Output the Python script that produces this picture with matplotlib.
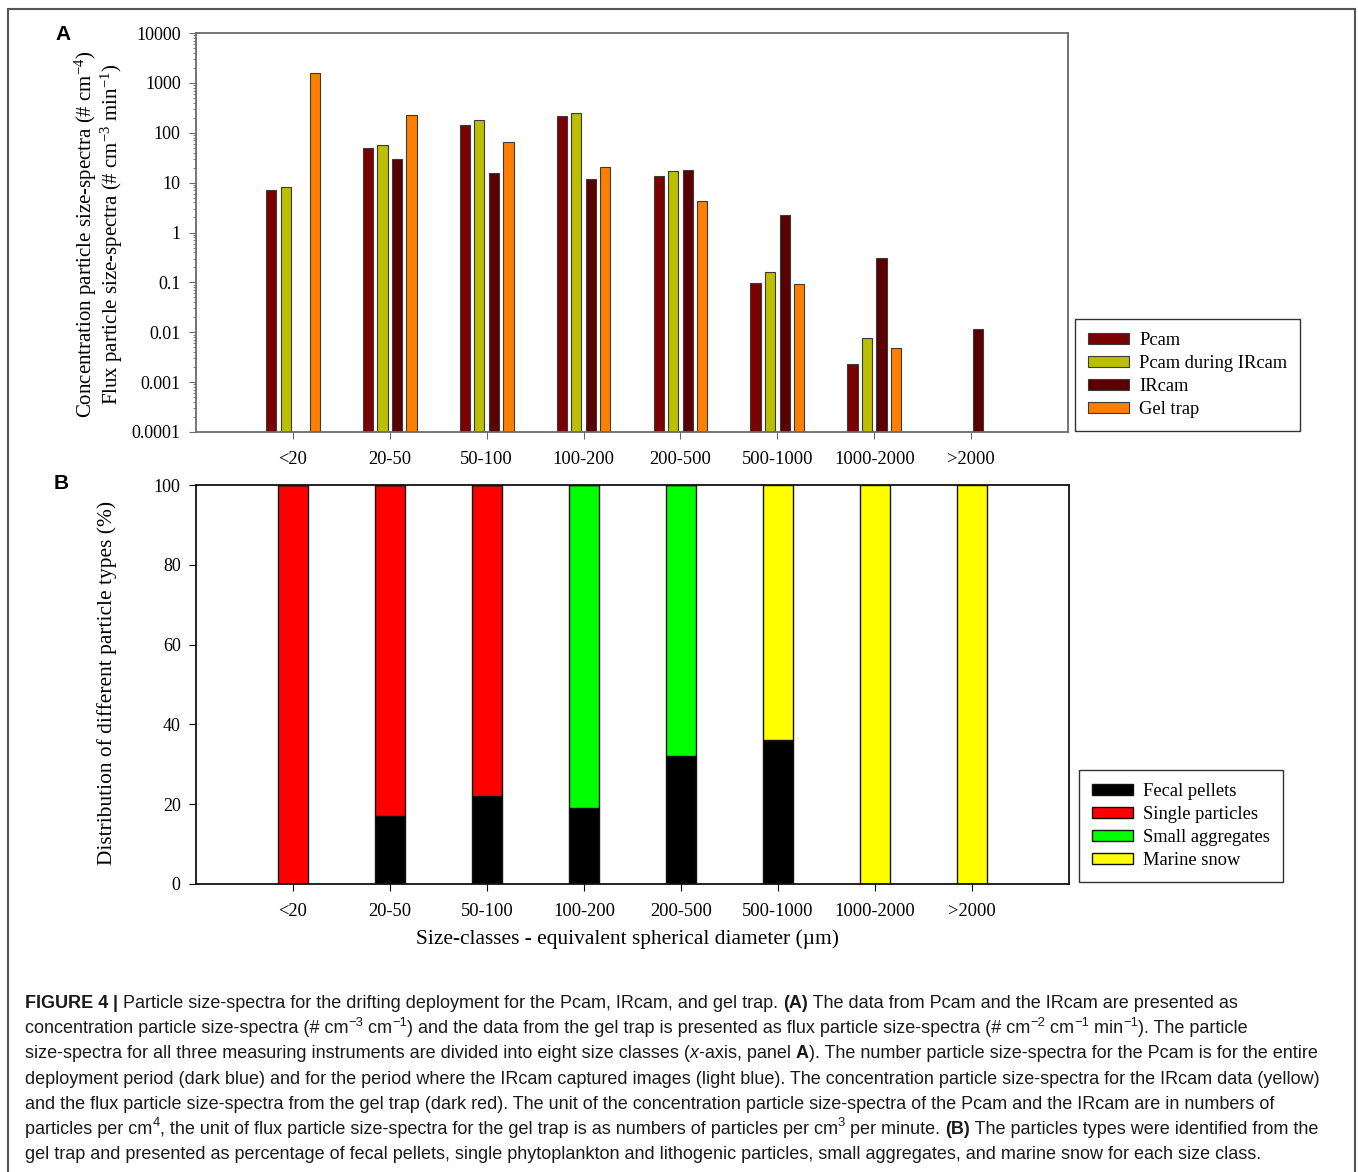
import matplotlib
matplotlib.use('Agg')
import matplotlib.pyplot as plt
import numpy as np
from matplotlib.patches import Rectangle

# data
categories = ['<20', '20-50', '50-100', '100-200', '200-500', '500-1000', '1000-2000', '>2000']

pcam = [7.1, 48.5, 145, 212, 13.8, 0.095, 0.00226, np.nan]
pcam_during_ircam = [8.3, 57.5, 179, 251, 17.4, 0.164, 0.0078, np.nan]
ircam = [np.nan, 29.3, 15.4, 11.7, 17.9, 2.22, 0.306, 0.0116]
gel_trap = [1585, 226, 64, 20.3, 4.2, 0.0925, 0.00485, np.nan]

fecal_pellets = [0, 17, 22, 19, 32, 36, 0, 0]
single_particles = [100, 83, 78, 0, 0, 0, 0, 0]
small_aggregates = [0, 0, 0, 81, 68, 0, 0, 0]
marine_snow = [0, 0, 0, 0, 0, 64, 100, 100]

log_ticks = [1e-4, 1e-3, 1e-2, 1e-1, 1, 10, 100, 1000, 10000]
log_tick_labels = ['0.0001', '0.001', '0.01', '0.1', '1', '10', '100', '1000', '10000']

caption = [
    [('FIGURE 4', 'b'), (' | ', 'b'), ('Particle size-spectra for the drifting deployment for the Pcam, IRcam, and gel trap. ', 'n'),
     ('(A)', 'b'), (' The data from Pcam and the IRcam are presented as', 'n')],
    [('concentration particle size-spectra (# cm', 'n'), ('\u22123', 's'), (' cm', 'n'), ('\u22121', 's'),
     (') and the data from the gel trap is presented as flux particle size-spectra (# cm', 'n'), ('\u22122', 's'),
     (' cm', 'n'), ('\u22121', 's'), (' min', 'n'), ('\u22121', 's'), ('). The particle', 'n')],
    [('size-spectra for all three measuring instruments are divided into eight size classes (', 'n'), ('x', 'i'),
     ('-axis, panel ', 'n'), ('A', 'b'), ('). The number particle size-spectra for the Pcam is for the entire', 'n')],
    [('deployment period (dark blue) and for the period where the IRcam captured images (light blue). The concentration particle size-spectra for the IRcam data (yellow)', 'n')],
    [('and the flux particle size-spectra from the gel trap (dark red). The unit of the concentration particle size-spectra of the Pcam and the IRcam are in numbers of', 'n')],
    [('particles per cm', 'n'), ('4', 's'), (', the unit of flux particle size-spectra for the gel trap is as numbers of particles per cm', 'n'),
     ('3', 's'), (' per minute. ', 'n'), ('(B)', 'b'), (' The particles types were identified from the', 'n')],
    [('gel trap and presented as percentage of fecal pellets, single phytoplankton and lithogenic particles, small aggregates, and marine snow for each size class.', 'n')],
]

plt.rcParams['font.family'] = 'Liberation Serif'
plt.rcParams['mathtext.default'] = 'regular'

W, H = 1358, 1172
fig = plt.figure(figsize=(W / 100, H / 100), dpi=100)
fig.patch.set_facecolor('white')


def fx(px):
    return px / W


def fy(py):
    return 1 - py / H


# outer frame of the figure
fig.patches.append(Rectangle((fx(8), fy(1190)), fx(1355) - fx(8), fy(9) - fy(1190),
                             transform=fig.transFigure, fill=False, edgecolor='#555555', linewidth=1.5))

x = np.arange(1, len(categories) + 1)

# ---------------- panel A
axA = fig.add_axes([fx(196), fy(432), fx(1068) - fx(196), fy(33) - fy(432)])
series = [(pcam, 'Pcam', '#7b0000'),
          (pcam_during_ircam, 'Pcam during IRcam', '#bbbf00'),
          (ircam, 'IRcam', '#5a0000'),
          (gel_trap, 'Gel trap', '#ff8000')]
offsets = [-0.225, -0.075, 0.075, 0.225]
for off, (vals, name, col) in zip(offsets, series):
    axA.bar(x + off, vals, width=0.105, color=col, edgecolor='#3a3a3a', linewidth=0.8, label=name)
axA.set_yscale('log')
axA.set_ylim(1e-4, 1e4)
axA.set_xlim(0, 9)
axA.set_yticks(log_ticks, log_tick_labels)
axA.set_xticks(x, categories)
for s in axA.spines.values():
    s.set_color('#6a6a6a')
    s.set_linewidth(1.3)
axA.tick_params(axis='y', which='major', direction='out', length=5, pad=6, labelsize=13, color='#6a6a6a')
axA.tick_params(axis='y', which='minor', direction='out', length=2.5, color='#6a6a6a')
axA.tick_params(axis='x', direction='out', length=5, pad=9, labelsize=13.3, color='#6a6a6a')
legA = axA.legend(loc='lower left', bbox_to_anchor=(1.008, 0.0025), borderaxespad=0, fancybox=False,
                  edgecolor='#333333', framealpha=1, fontsize=13.3, handlelength=2.25, handleheight=0.55,
                  handletextpad=0.55, labelspacing=0.34, borderpad=0.68)
legA.get_frame().set_linewidth(1.0)

fig.text(fx(99), fy(234),
         'Concentration particle size-spectra (# cm$^{-4}$)\nFlux particle size-spectra (# cm$^{-3}$ min$^{-1}$)',
         rotation=90, ha='center', va='center', fontsize=15, multialignment='center', linespacing=1.0)
fig.text(fx(63), fy(34), 'A', family='Liberation Sans', fontweight='bold', fontsize=15, ha='center', va='center')

# ---------------- panel B
axB = fig.add_axes([fx(196), fy(884), fx(1069) - fx(196), fy(485) - fy(884)])
bottom = np.zeros(len(categories))
for vals, name, col in [(fecal_pellets, 'Fecal pellets', '#000000'),
                        (single_particles, 'Single particles', '#ff0000'),
                        (small_aggregates, 'Small aggregates', '#00ff00'),
                        (marine_snow, 'Marine snow', '#ffff00')]:
    axB.bar(x, vals, width=0.3, bottom=bottom, color=col, edgecolor='#111111', linewidth=1.0, label=name)
    bottom = bottom + np.array(vals)
axB.set_ylim(0, 100)
axB.set_xlim(0, 9)
axB.set_yticks([0, 20, 40, 60, 80, 100])
axB.set_xticks(x, categories)
for s in axB.spines.values():
    s.set_color('#111111')
    s.set_linewidth(1.3)
axB.tick_params(axis='y', direction='out', length=5, pad=6, labelsize=13)
axB.tick_params(axis='x', direction='out', length=5, pad=9, labelsize=13.3)
legB = axB.legend(loc='lower left', bbox_to_anchor=(1.0115, 0.005), borderaxespad=0, fancybox=False,
                  edgecolor='#333333', framealpha=1, fontsize=13.3, handlelength=2.25, handleheight=0.55,
                  handletextpad=0.55, labelspacing=0.34, borderpad=0.68)
legB.get_frame().set_linewidth(1.0)

fig.text(fx(107), fy(683), 'Distribution of different particle types (%)', rotation=90,
         ha='center', va='center', fontsize=15.4)
fig.text(fx(627), fy(939), 'Size-classes - equivalent spherical diameter (\u00b5m)', ha='center', va='center', fontsize=15.4)
fig.text(fx(61), fy(484), 'B', family='Liberation Sans', fontweight='bold', fontsize=15, ha='center', va='center')

# ---------------- caption
renderer = fig.canvas.get_renderer()


def seg_width(text, kw):
    t1 = fig.text(0, 0, '|' + text + '|', **kw)
    t2 = fig.text(0, 0, '||', **kw)
    w = t1.get_window_extent(renderer).width - t2.get_window_extent(renderer).width
    t1.remove()
    t2.remove()
    return w


cap_size = 13.0
for i, line in enumerate(caption):
    base = 1008 + i * 25.2
    xp = 25
    for text, style in line:
        kw = dict(family='Liberation Sans', fontsize=cap_size, color='#1a1a1a')
        dy = 0
        if style == 'b':
            kw['fontweight'] = 'bold'
        elif style == 'i':
            kw['fontstyle'] = 'italic'
        elif style == 's':
            kw['fontsize'] = cap_size * 0.72
            dy = cap_size * 0.42 * 100 / 72
        fig.text(fx(xp), fy(base - dy), text, ha='left', va='baseline', **kw)
        xp += seg_width(text, kw)

fig.savefig('out.png', dpi=100, facecolor='white')
